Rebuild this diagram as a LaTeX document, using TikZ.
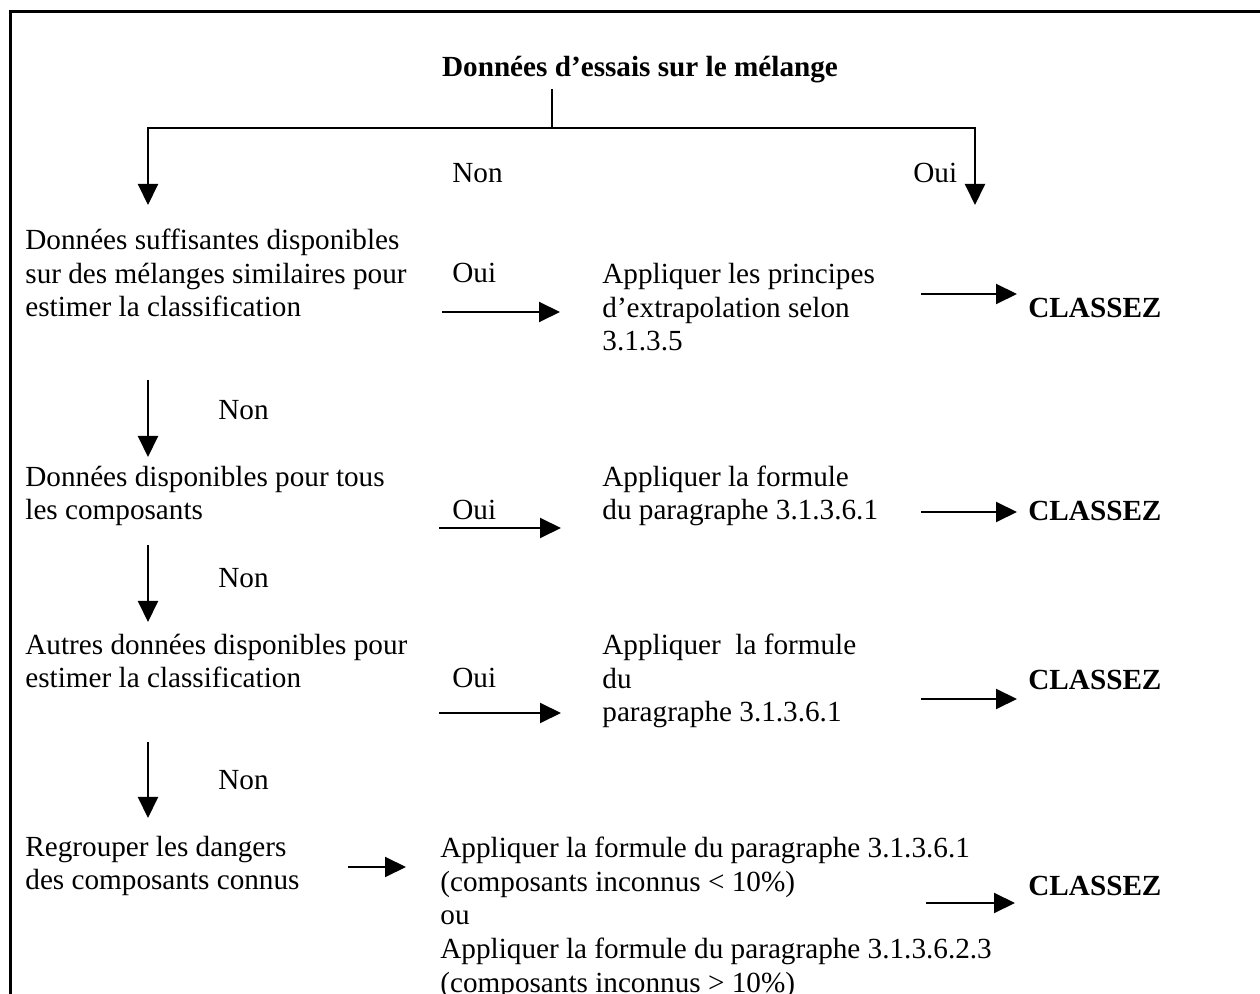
\documentclass[tikz,border=0pt]{standalone}
\usepackage{fontspec}
\setmainfont{Liberation Serif}
\usetikzlibrary{arrows.meta}

\begin{document}
\begin{tikzpicture}[x=0.5pt,y=-0.5pt,
    txt/.style={inner sep=0pt,anchor=base west,align=left,font=\fontsize{14.6}{16.8}\selectfont},
    res/.style={inner sep=0pt,anchor=base west,font=\fontsize{14.6}{16.8}\selectfont\bfseries},
    arr/.style={line width=1pt,-{Triangle[length=10.5pt,width=10pt]}}]
    \useasboundingbox (0,0) rectangle (1260,994);

    % Frame (open at the right and at the bottom)
    \draw[line width=1.5pt,line join=miter] (10,994) -- (10,12) -- (1260,12);

    % Title and first split
    \node[res,anchor=base] (title) at (640,77) {Données d’essais sur le mélange};
    \coordinate (stem) at (552,89);
    \coordinate (split) at (552,128);
    \coordinate (left) at (148,128);
    \coordinate (right) at (975,128);
    \coordinate (leftend) at (148,205);
    \coordinate (rightend) at (975,205);
    \draw[line width=1pt] (stem) -- (split);
    \draw[arr] (split) -- (left) -- (leftend);
    \draw[arr] (split) -- (right) -- (rightend);
    \node[txt] (n0) at (452,183) {Non};
    \node[txt] (o0) at (913,183) {Oui};

    % Questions (left column), placed at the baseline of their last line
    \node[txt] (q1) at (25,317) {Données suffisantes disponibles\\sur des mélanges similaires pour\\estimer la classification};
    \node[txt] (q2) at (25,520) {Données disponibles pour tous\\les composants};
    \node[txt] (q3) at (25,688) {Autres données disponibles pour\\estimer la classification};
    \node[txt] (q4) at (25,890) {Regrouper les dangers\\des composants connus};

    % Methods (middle column)
    \node[txt] (a1) at (602,351) {Appliquer les principes\\d’extrapolation selon\\3.1.3.5};
    \node[txt] (a2) at (602,520) {Appliquer la formule\\du paragraphe 3.1.3.6.1};
    \node[txt] (a3) at (602,722) {Appliquer\ \ la formule\\du\\paragraphe 3.1.3.6.1};
    \node[txt] (a4) at (440,992) {Appliquer la formule du paragraphe 3.1.3.6.1\\(composants inconnus < 10\%)\\ou\\Appliquer la formule du paragraphe 3.1.3.6.2.3\\(composants inconnus > 10\%)};

    % Results (right column)
    \node[res] (c1) at (1028,318) {CLASSEZ};
    \node[res] (c2) at (1028,521) {CLASSEZ};
    \node[res] (c3) at (1028,690) {CLASSEZ};
    \node[res] (c4) at (1028,895) {CLASSEZ};

    % Labels on the arrows
    \node[txt] (o1) at (452,283) {Oui};
    \node[txt] (o2) at (452,520) {Oui};
    \node[txt] (o3) at (452,688) {Oui};
    \node[txt] (n1) at (218,420) {Non};
    \node[txt] (n2) at (218,588) {Non};
    \node[txt] (n3) at (218,790) {Non};

    % Arrow ends
    \coordinate (d1a) at (148,380); \coordinate (d1b) at (148,457);
    \coordinate (d2a) at (148,545); \coordinate (d2b) at (148,622);
    \coordinate (d3a) at (148,742); \coordinate (d3b) at (148,818);
    \coordinate (r1a) at (442,312); \coordinate (r1b) at (560,312);
    \coordinate (r2a) at (439,528); \coordinate (r2b) at (561,528);
    \coordinate (r3a) at (439,713); \coordinate (r3b) at (561,713);
    \coordinate (r4a) at (348,867); \coordinate (r4b) at (406,867);
    \coordinate (k1a) at (921,294); \coordinate (k1b) at (1017,294);
    \coordinate (k2a) at (921,512); \coordinate (k2b) at (1017,512);
    \coordinate (k3a) at (921,699); \coordinate (k3b) at (1017,699);
    \coordinate (k4a) at (926,903); \coordinate (k4b) at (1015,903);

    % Arrows
    \foreach \s in {d1,d2,d3,r1,r2,r3,r4,k1,k2,k3,k4}
        \draw[arr] (\s a) -- (\s b);
\end{tikzpicture}
\end{document}
